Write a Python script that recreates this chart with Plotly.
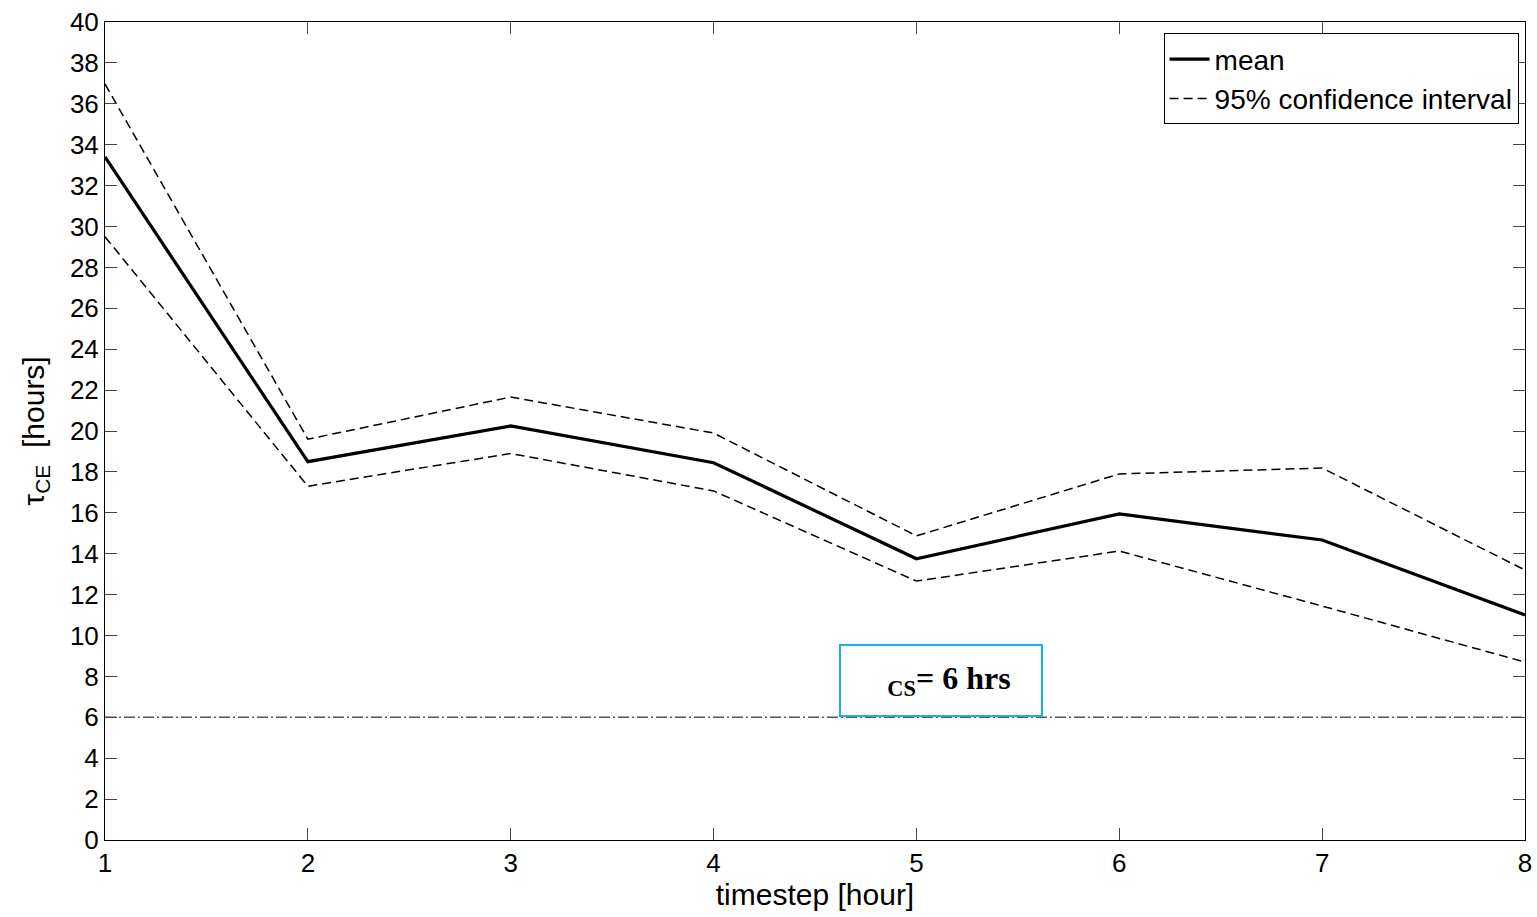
import plotly.graph_objects as go

timestep = [1, 2, 3, 4, 5, 6, 7, 8]
mean_vals = [33.4, 18.5, 20.25, 18.45, 13.75, 15.95, 14.67, 11.0]
upper_vals = [36.97, 19.6, 21.66, 19.9, 14.87, 17.9, 18.19, 13.2]
lower_vals = [29.5, 17.3, 18.9, 17.07, 12.66, 14.13, 11.44, 8.7]
threshold = 6
x_ticks = [1, 2, 3, 4, 5, 6, 7, 8]
y_ticks = list(range(0, 41, 2))

fig = go.Figure()
fig.add_trace(go.Scatter(x=timestep, y=mean_vals, mode="lines", name="mean",
                         line=dict(color="black", width=3.2)))
fig.add_trace(go.Scatter(x=timestep, y=upper_vals, mode="lines", name="95% confidence interval",
                         line=dict(color="black", width=1.5, dash="9px,5px")))
fig.add_trace(go.Scatter(x=timestep, y=lower_vals, mode="lines", showlegend=False,
                         line=dict(color="black", width=1.5, dash="9px,5px")))
fig.add_trace(go.Scatter(x=[timestep[0], timestep[-1]], y=[threshold, threshold], mode="lines",
                         showlegend=False, line=dict(color="#555555", width=1.5,
                                                     dash="11px,3px,2px,3px")))

fig.add_annotation(x=5.12, y=7.8, xref="x", yref="y",
                   text="&nbsp;&nbsp;<sub>CS</sub>= 6 hrs",
                   font=dict(family="Liberation Serif", size=32, color="black", weight="bold"),
                   showarrow=False, bordercolor="#1AB0E8", borderwidth=2, bgcolor="white",
                   width=198, height=67, xanchor="center", yanchor="middle")

axis_common = dict(showline=True, linecolor="black", linewidth=1, mirror="allticks",
                   ticks="inside", ticklen=12, tickcolor="#444444", showgrid=False, zeroline=False,
                   automargin=False,
                   tickfont=dict(family="Liberation Sans", size=26, color="black"))

fig.update_xaxes(range=[1, 8], tickvals=x_ticks, **axis_common,
                 title=dict(text="timestep [hour]", font=dict(family="Liberation Sans", size=30, color="black"),
                            standoff=2))
fig.update_yaxes(range=[0, 40], tickvals=y_ticks, **axis_common,
                 title=dict(text="τ<sub>CE</sub>  [hours]", font=dict(family="Liberation Sans", size=30, color="black"),
                            standoff=16))

fig.update_layout(width=1537, height=917, plot_bgcolor="white", paper_bgcolor="white",
                  margin=dict(l=105, r=12, t=22, b=77),
                  legend=dict(x=0.9955, y=0.986, xanchor="right", yanchor="top",
                              bordercolor="black", borderwidth=1, bgcolor="white",
                              font=dict(family="Liberation Sans", size=28, color="black"),
                              tracegroupgap=0, itemwidth=40),
                  showlegend=True)

fig.write_html("out.html", config={"displayModeBar": False},
               post_script="document.body.style.margin='0';document.body.style.overflow='hidden';")
